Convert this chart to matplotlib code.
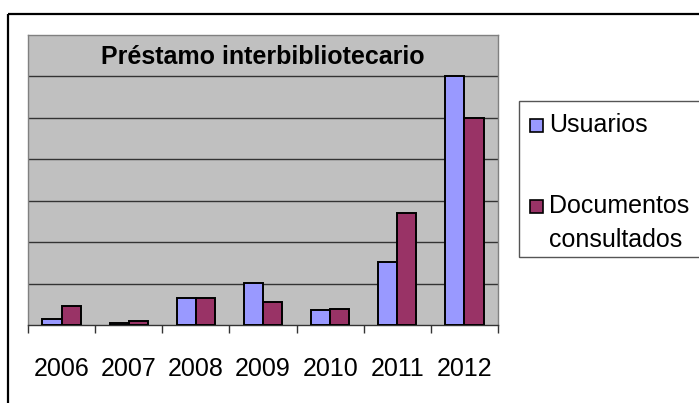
import numpy as np
import matplotlib
matplotlib.use('Agg')
import matplotlib.pyplot as plt
from matplotlib.patches import Rectangle

plt.rcParams['font.family'] = ['Liberation Sans', 'DejaVu Sans']

# datos (escala en unidades de la cuadricula x10)
years = ['2006', '2007', '2008', '2009', '2010', '2011', '2012']
usuarios = [1.5, 0.6, 6.6, 10.2, 3.6, 15.3, 60.0]
documentos = [4.6, 1.0, 6.6, 5.6, 3.9, 27.0, 50.0]
series_labels = ['Usuarios', 'Documentos\nconsultados']
title = 'Préstamo interbibliotecario'

c_usu = '#9999FF'
c_doc = '#993366'

fig = plt.figure(figsize=(6.99, 4.03), dpi=100)
W, H = 699, 403

# marco exterior del grafico
fig.patches.append(Rectangle((8 / W, 1 - 14 / H), 1.2, -1.2, transform=fig.transFigure,
                             fill=False, edgecolor='black', linewidth=1.6))

ax = fig.add_axes([28 / W, 1 - 325 / H, 470 / W, 290 / H])
ax.set_facecolor('#C0C0C0')

x = np.arange(len(years))
bw = 1 / 3.5
ax.bar(x - bw / 2, usuarios, bw, color=c_usu, edgecolor='black', linewidth=1.4, zorder=3)
ax.bar(x + bw / 2, documentos, bw, color=c_doc, edgecolor='black', linewidth=1.4, zorder=3)

ax.set_xlim(-0.5, len(years) - 0.5)
ax.set_ylim(0, 70)
ax.set_yticks(np.arange(10, 70, 10))
ax.yaxis.grid(True, color='#333333', linewidth=1.0, zorder=1)
ax.tick_params(axis='y', left=False, labelleft=False)

ax.set_xticks(np.arange(-0.5, len(years), 1))
ax.set_xticklabels([])
ax.set_xticks(x, minor=True)
ax.set_xticklabels(years, minor=True, fontsize=18)
ax.tick_params(axis='x', which='major', length=6, width=1, color='#333333', direction='out')
ax.tick_params(axis='x', which='minor', length=0, pad=23)

for s in ['top', 'right', 'left']:
    ax.spines[s].set_color('#808080')
    ax.spines[s].set_linewidth(1.0)
ax.spines['bottom'].set_color('#333333')
ax.spines['bottom'].set_linewidth(1.0)

ax.text(0.5, 0.925, title, transform=ax.transAxes, ha='center', va='center',
        fontsize=18, fontweight='bold', zorder=5)

# leyenda dibujada a mano (marcador alineado con la primera linea)
fig.patches.append(Rectangle((519 / W, 1 - 257 / H), 200 / W, 156 / H, transform=fig.transFigure,
                             facecolor='white', edgecolor='#555555', linewidth=1.0))
entries = [(c_usu, series_labels[0], 125), (c_doc, series_labels[1], 206)]
for col, lab, yc in entries:
    fig.patches.append(Rectangle((530 / W, 1 - (yc + 6.5) / H), 13 / W, 13 / H,
                                 transform=fig.transFigure, facecolor=col,
                                 edgecolor='black', linewidth=1.2))
    fig.text(549 / W, 1 - (yc - 12) / H, lab, ha='left', va='top', fontsize=18,
             linespacing=1.55)

fig.savefig('out.png', dpi=100)
